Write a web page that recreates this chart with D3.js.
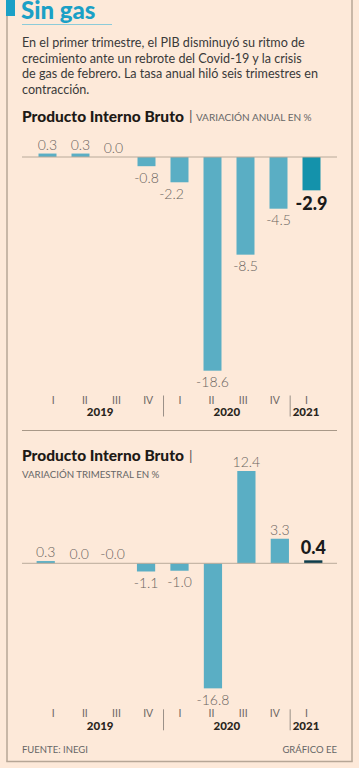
<!DOCTYPE html>
<html><head><meta charset="utf-8">
<script src="https://cdn.jsdelivr.net/npm/d3@7"></script>
<style>
html,body{margin:0;padding:0;background:#fde9d9;}
svg{display:block;}
text{font-family:Lato,"Open Sans",sans-serif;}
</style></head>
<body><svg id="c" width="359" height="768"></svg>
<script>
const quarters = ["I","II","III","IV","I","II","III","IV","I"];
const years = ["2019","2020","2021"];
const annualValues = [0.3, 0.3, 0.0, -0.8, -2.2, -18.6, -8.5, -4.5, -2.9];
const annualLabels = ["0.3","0.3","0.0","-0.8","-2.2","-18.6","-8.5","-4.5","-2.9"];
const quarterlyValues = [0.3, 0.0, -0.0, -1.1, -1.0, -16.8, 12.4, 3.3, 0.4];
const quarterlyLabels = ["0.3","0.0","-0.0","-1.1","-1.0","-16.8","12.4","3.3","0.4"];
const title = "Sin gas";
const intro = ["En el primer trimestre, el PIB disminuyó su ritmo de",
  "crecimiento ante un rebrote del Covid-19 y la crisis",
  "de gas de febrero. La tasa anual hiló seis trimestres en",
  "contracción."];

const svg = d3.select("#c");
const W = 359, H = 768;
const frame = "#b6a696", teal = "#1ba0c6", bar = "#5aaec4";

svg.append("rect").attr("width",W).attr("height",H).attr("fill","#fde9d9");
// frame
svg.append("rect").attr("x",6).attr("y",0).attr("width",9).attr("height",16).attr("fill",teal);
svg.append("line").attr("x1",7).attr("x2",7).attr("y1",16).attr("y2",761.5).attr("stroke",frame).attr("stroke-width",1.5);
svg.append("line").attr("x1",352).attr("x2",352).attr("y1",0).attr("y2",761.5).attr("stroke",frame).attr("stroke-width",1.5);
svg.append("line").attr("x1",6.3).attr("x2",352.7).attr("y1",761.5).attr("y2",761.5).attr("stroke",frame).attr("stroke-width",1.5);

svg.append("text").attr("x",21).attr("y",19).text(title)
  .attr("font-size",24).attr("font-weight",900).attr("fill",teal);
svg.append("line").attr("x1",22).attr("x2",112).attr("y1",24.5).attr("y2",24.5).attr("stroke","#8ccbd9").attr("stroke-width",1.2);

svg.append("g").selectAll("text").data(intro).join("text")
  .attr("x",22).attr("y",(d,i)=>47+i*15.6).text(d=>d)
  .attr("font-size",12.6).attr("fill","#3a3a3a");

function header(y, sub, sameLine, subY){
  const t = svg.append("text").attr("x",22).attr("y",y).attr("font-size",15.5).attr("font-weight",900).attr("fill","#1e1a16").text("Producto Interno Bruto");
  const w = t.node().getComputedTextLength();
  svg.append("text").attr("x",22+w+5).attr("y",y-0.5).attr("font-size",14).attr("fill","#555").text("|");
  if(sameLine){
    svg.append("text").attr("x",22+w+12).attr("y",y-1).attr("font-size",10).attr("fill","#666").text(sub);
  } else {
    svg.append("text").attr("x",22).attr("y",subY).attr("font-size",9.7).attr("fill","#666").text(sub);
  }
}

function chart(o){
  const g = svg.append("g");
  const x = d3.scaleBand().domain(d3.range(o.values.length)).range(o.xRange).paddingInner(0.455).paddingOuter(0.2275);
  const y = d3.scaleLinear().domain(o.yDomain).range(o.yRange);
  g.selectAll("rect.bar").data(o.values).join("rect").attr("class","bar")
    .attr("x",(d,i)=>x(i)).attr("width",x.bandwidth())
    .attr("y",d=>Math.min(y(d),y(0))).attr("height",d=>Math.abs(y(d)-y(0)))
    .attr("fill",(d,i)=>i===o.values.length-1?o.lastColor:bar);
  g.append("line").attr("x1",22).attr("x2",337).attr("y1",y(0)).attr("y2",y(0)).attr("stroke","#b9aa9a").attr("stroke-width",1);
  g.selectAll("text.lab").data(o.values).join("text").attr("class","lab")
    .attr("x",(d,i)=>x(i)+x.bandwidth()/2+(o.shift[i]||0))
    .attr("y",(d,i)=>{
      const last = i===o.values.length-1;
      const neg = o.labels[i].startsWith("-") && d<0;
      return neg ? y(d)+(last?20:16.5) : y(d)-(last?6:4);
    })
    .attr("text-anchor","middle")
    .attr("font-size",(d,i)=>i===o.values.length-1?18:14)
    .attr("font-weight",(d,i)=>i===o.values.length-1?900:300)
    .attr("fill",(d,i)=>i===o.values.length-1?"#1a1a1a":"#6a6460")
    .text((d,i)=>o.labels[i]);
  // axis
  const xa = d3.scalePoint().domain(d3.range(quarters.length)).range([52.7,306]);
  const ax = g.append("g").attr("transform",`translate(0,${o.axisY})`)
    .call(d3.axisBottom(xa).tickSize(0).tickPadding(0).tickFormat(i=>quarters[i]));
  ax.select(".domain").remove();
  ax.selectAll("text").attr("font-size",10.5).attr("font-family","Lato, sans-serif").attr("fill","#6e6864").attr("dy",0).attr("y",0);
  const sep = [ (xa(3)+xa(4))/2, (xa(7)+xa(8))/2 ];
  g.selectAll("line.sep").data(sep).join("line").attr("class","sep")
    .attr("x1",d=>d).attr("x2",d=>d).attr("y1",o.axisY-8).attr("y2",o.axisY+13)
    .attr("stroke","#9a9088").attr("stroke-width",1);
  const yc = [(xa(0)+xa(3))/2,(xa(4)+xa(7))/2,xa(8)];
  g.selectAll("text.yr").data(years).join("text").attr("class","yr")
    .attr("x",(d,i)=>yc[i]).attr("y",o.axisY+12.5).attr("text-anchor","middle")
    .attr("font-size",11.5).attr("font-weight",900).attr("fill","#2a2520").text(d=>d);
}

header(121.5,"VARIACIÓN ANUAL EN %",true);
chart({values:annualValues, labels:annualLabels, xRange:[31,328], yDomain:[0,-18.6], yRange:[157,370.7],
  lastColor:"#1492ab", axisY:403.5, shift:{4:-8}});

svg.append("line").attr("x1",22).attr("x2",337).attr("y1",430.5).attr("y2",430.5).attr("stroke","#a89888").attr("stroke-width",1.2);

header(461,"VARIACIÓN TRIMESTRAL EN %",false,477.5);
chart({values:quarterlyValues, labels:quarterlyLabels, xRange:[29,330], yDomain:[0,12.4], yRange:[563.3,471],
  lastColor:"#0d3d4c", axisY:717.3, shift:{}});

svg.append("text").attr("x",22).attr("y",752.5).attr("font-size",9.5).attr("fill","#666").text("FUENTE: INEGI");
svg.append("text").attr("x",337).attr("y",752.5).attr("text-anchor","end").attr("font-size",9.5).attr("fill","#666").text("GRÁFICO EE");
</script></body></html>
